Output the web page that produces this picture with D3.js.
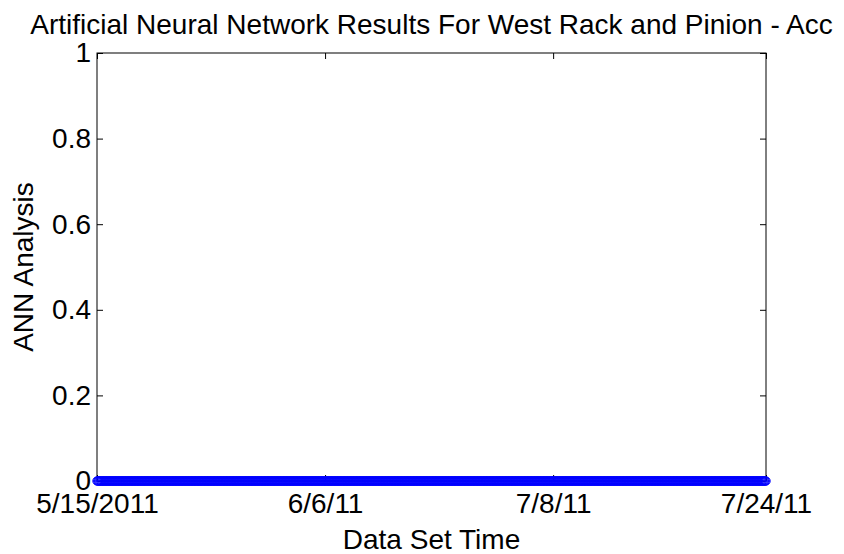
<!DOCTYPE html>
<html><head><meta charset="utf-8">
<script src="https://cdn.jsdelivr.net/npm/d3@7"></script>
<style>body{margin:0;background:#fff}svg{display:block}text{font-family:"Liberation Sans",Arial,sans-serif;fill:#000}</style>
</head><body>
<svg id="c" width="844" height="554"></svg>
<script>
const title = "Artificial Neural Network Results For West Rack and Pinion - Acc";
const xLabel = "Data Set Time";
const yLabel = "ANN Analysis";
const nPoints = 881;
const dataIndex = d3.range(1, nPoints + 1);
const annValues = dataIndex.map(() => 0);
const xTickIndex = [1, 301, 601, 881];
const xTickLabels = ["5/15/2011", "6/6/11", "7/8/11", "7/24/11"];
const yTicks = [0, 0.2, 0.4, 0.6, 0.8, 1];
const yTickLabels = ["0", "0.2", "0.4", "0.6", "0.8", "1"];

const svg = d3.select("#c");
const L = 97, R = 766, T = 53, B = 481;
const x = d3.scaleLinear().domain([1, nPoints]).range([L, R]);
const y = d3.scaleLinear().domain([0, 1]).range([B, T]);
const fs = 28, tl = 6;

const g = svg.append("g");
g.append("rect").attr("x", L).attr("y", T).attr("width", R - L).attr("height", B - T)
  .attr("fill", "none").attr("stroke", "#000").attr("stroke-width", 1);

const xb = g.append("g").attr("transform", `translate(0,${B})`)
  .call(d3.axisBottom(x).tickValues(xTickIndex).tickFormat((d, i) => xTickLabels[i]).tickSize(-tl).tickPadding(12));
const xt = g.append("g").attr("transform", `translate(0,${T})`)
  .call(d3.axisTop(x).tickValues(xTickIndex).tickFormat("").tickSize(-tl));
const yl = g.append("g").attr("transform", `translate(${L},0)`)
  .call(d3.axisLeft(y).tickValues(yTicks).tickFormat((d, i) => yTickLabels[i]).tickSize(-tl).tickPadding(6));
const yr = g.append("g").attr("transform", `translate(${R},0)`)
  .call(d3.axisRight(y).tickValues(yTicks).tickFormat("").tickSize(-tl));
[xb, xt, yl, yr].forEach(a => {
  a.select(".domain").remove();
  a.selectAll("line").attr("stroke", "#000");
  a.selectAll("text").attr("font-size", fs).attr("font-family", "Liberation Sans, Arial, sans-serif").attr("fill", "#000");
});
xb.selectAll("text").attr("dy", null).attr("y", 32);

g.append("g").selectAll("circle").data(dataIndex).join("circle")
  .attr("cx", d => x(d)).attr("cy", (d, i) => y(annValues[i]))
  .attr("r", 4.2).attr("fill", "none").attr("stroke", "#0000ff").attr("stroke-width", 1);

svg.append("text").attr("x", (L + R) / 2).attr("y", 34).attr("text-anchor", "middle").attr("font-size", fs).text(title);
svg.append("text").attr("x", (L + R) / 2).attr("y", 549).attr("text-anchor", "middle").attr("font-size", fs).text(xLabel);
svg.append("text").attr("transform", `translate(33,${(T + B) / 2}) rotate(-90)`).attr("text-anchor", "middle").attr("font-size", fs).text(yLabel);
</script>
</body></html>
